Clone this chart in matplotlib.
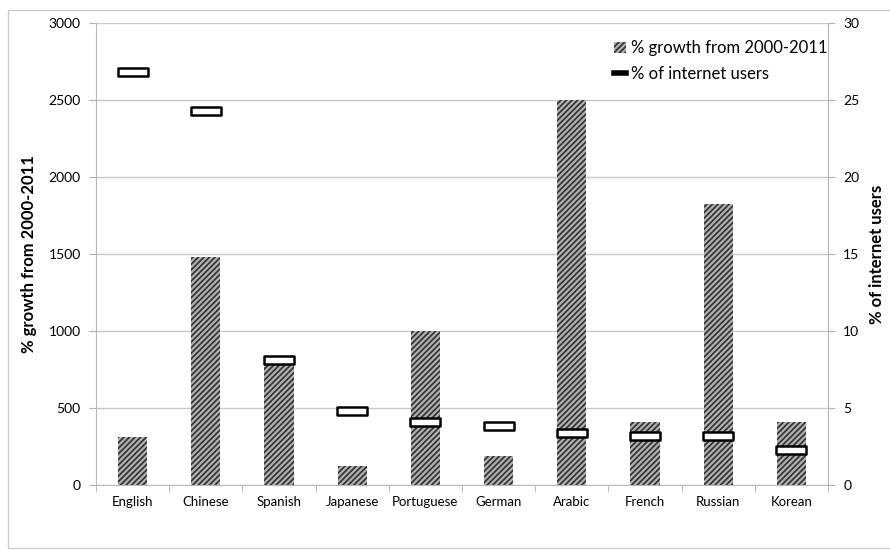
import matplotlib
matplotlib.use("Agg")
import matplotlib.pyplot as plt
import numpy as np
from matplotlib.path import Path
from matplotlib.patches import Patch, Rectangle
from matplotlib.lines import Line2D

plt.rcParams['font.family'] = ['Lato', 'DejaVu Sans']
plt.rcParams['hatch.linewidth'] = 1.2

languages = ["English", "Chinese", "Spanish", "Japanese", "Portuguese",
             "German", "Arabic", "French", "Russian", "Korean"]
growth = [310, 1479, 807, 125, 1000, 190, 2501, 410, 1826, 410]
users_pct = [26.8, 24.3, 8.1, 4.8, 4.1, 3.8, 3.4, 3.2, 3.2, 2.3]
left_ticks = [0, 500, 1000, 1500, 2000, 2500, 3000]
right_ticks = [0, 5, 10, 15, 20, 25, 30]

fig = plt.figure(figsize=(8.9, 5.5), dpi=100)
fig.patches.append(Rectangle((8/890, 2/550), 1.0, 1 - 12/550, transform=fig.transFigure,
                             fill=False, edgecolor='#cccccc', linewidth=1.0))
ax = fig.add_axes([96/890, 1 - 485/550, 732/890, 462/550])
x = np.arange(len(languages))
ax.bar(x, growth, width=0.4, facecolor='#b0b0b0', edgecolor='#303030',
       hatch='//////', linewidth=0, zorder=2)
ax.set_ylim(0, 3000)
ax.set_xlim(-0.5, len(languages) - 0.5)
ax.set_yticks(left_ticks)
ax.set_yticklabels([str(t) for t in left_ticks], fontsize=10)
ax.yaxis.grid(True, color='#c8c8c8', linewidth=1.0, zorder=0)
ax.set_axisbelow(True)
ax.set_xticks(x)
ax.set_xticklabels(languages, fontsize=9.5)
ax.set_xticks(np.arange(-0.5, len(languages)), minor=True)
ax.tick_params(axis='x', which='major', length=0, pad=8)
ax.tick_params(axis='x', which='minor', length=5, color='#b0b0b0')
ax.tick_params(axis='y', length=5, color='#b0b0b0', pad=6)
for s in ['top']:
    ax.spines[s].set_visible(False)
for s in ['left', 'right', 'bottom']:
    ax.spines[s].set_color('#b8b8b8')
ax.set_ylabel('% growth from 2000-2011', fontsize=12, fontweight='bold', labelpad=8)

ax2 = ax.twinx()
ax2.set_ylim(0, 30)
ax2.set_yticks(right_ticks)
ax2.set_yticklabels([str(t) for t in right_ticks], fontsize=10)
ax2.tick_params(axis='y', length=5, color='#b0b0b0', pad=6)
for s in ['top', 'left', 'bottom']:
    ax2.spines[s].set_visible(False)
ax2.spines['right'].set_color('#b8b8b8')

rect = Path([(-2, -0.5), (2, -0.5), (2, 0.5), (-2, 0.5), (-2, -0.5)],
            [Path.MOVETO, Path.LINETO, Path.LINETO, Path.LINETO, Path.CLOSEPOLY])
ax2.plot(x, users_pct, linestyle='none', marker=rect, markersize=22,
         markerfacecolor='white', markeredgecolor='black', markeredgewidth=1.8, zorder=3)
ax2.set_ylabel('% of internet users', fontsize=12, fontweight='bold',
               rotation=90, va='center', ha='center')
ax2.yaxis.set_label_coords((877 - 96) / 732, 0.5)

handles = [Patch(facecolor='#b0b0b0', edgecolor='#303030', hatch='//////', linewidth=0),
           Line2D([0], [0], color='black', linewidth=4)]
leg = ax2.legend(handles, ['% growth from 2000-2011', '% of internet users'],
                 loc='upper right', bbox_to_anchor=(1.02, 0.995), frameon=False,
                 fontsize=12, handlelength=0.7, handleheight=0.7, handletextpad=0.3,
                 labelspacing=0.6)

fig.savefig('out.png', dpi=100)
